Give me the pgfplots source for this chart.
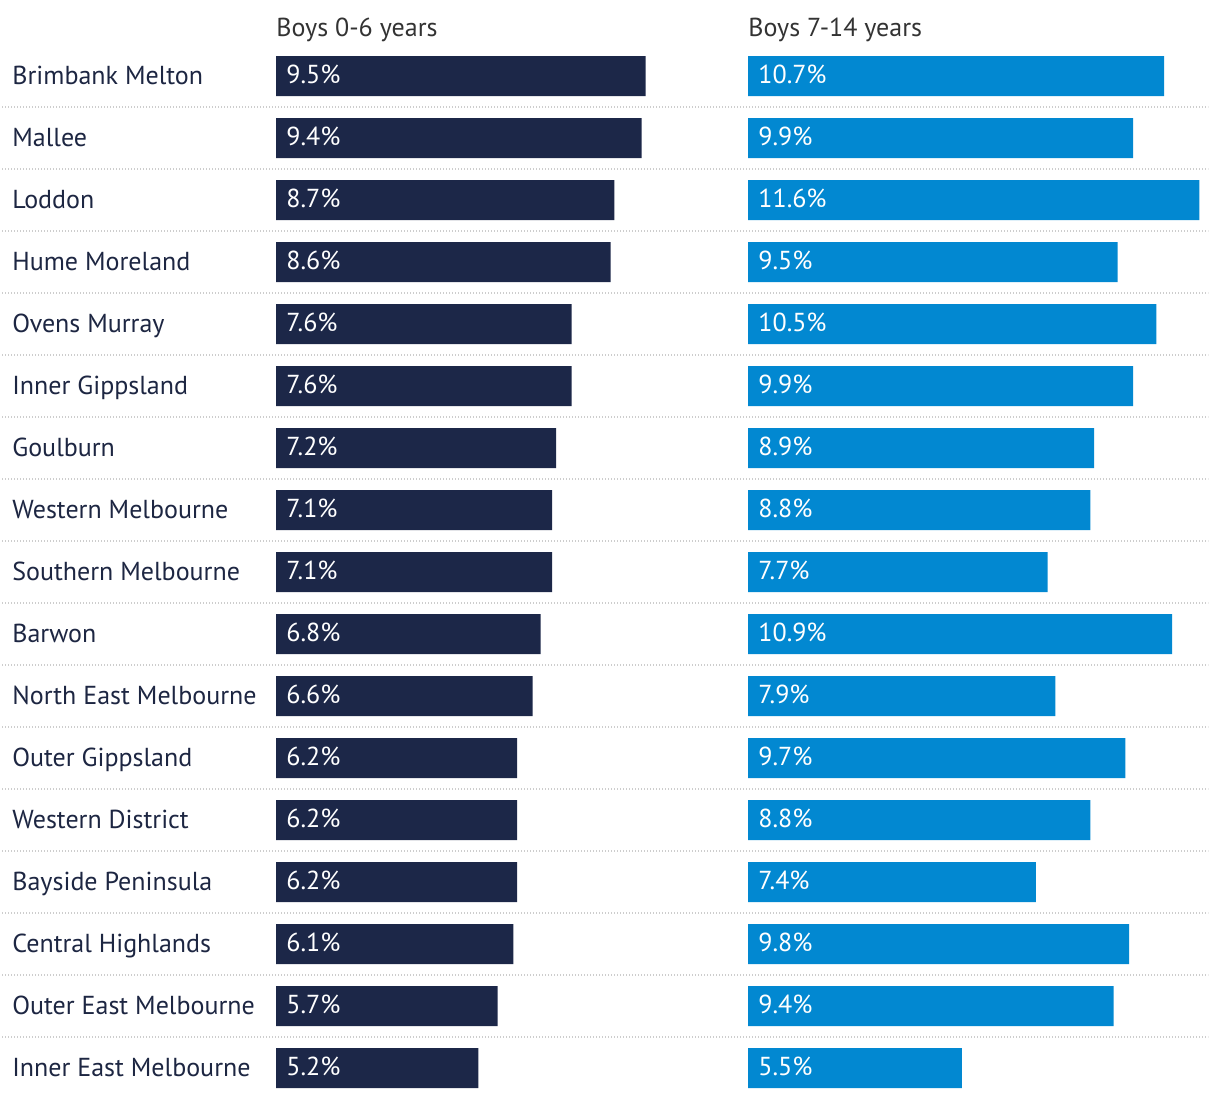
\documentclass[border=0pt]{standalone}
\usepackage{pgfplots}
\usepackage{pgfplotstable}
\pgfplotsset{compat=1.18}
\usepackage{fontspec}
\setmainfont{PT Sans}
\definecolor{navy}{RGB}{28,39,72}
\definecolor{sky}{RGB}{2,136,209}
\definecolor{labtext}{RGB}{29,38,66}
\definecolor{headtext}{RGB}{51,51,51}
\definecolor{sep}{RGB}{205,205,205}

\pgfplotstableread[col sep=comma]{
name,a,b
Brimbank Melton,9.5,10.7
Mallee,9.4,9.9
Loddon,8.7,11.6
Hume Moreland,8.6,9.5
Ovens Murray,7.6,10.5
Inner Gippsland,7.6,9.9
Goulburn,7.2,8.9
Western Melbourne,7.1,8.8
Southern Melbourne,7.1,7.7
Barwon,6.8,10.9
North East Melbourne,6.6,7.9
Outer Gippsland,6.2,9.7
Western District,6.2,8.8
Bayside Peninsula,6.2,7.4
Central Highlands,6.1,9.8
Outer East Melbourne,5.7,9.4
Inner East Melbourne,5.2,5.5
}\data

\pgfplotsset{
  myax/.style={
    scale only axis, width=233.4pt, height=549pt,
    xmin=0, xmax=12, ymin=-1.225806, ymax=16.483871,
    y dir=reverse, axis line style={draw=none},
    xtick=\empty, major tick length=0pt,
    clip=false, anchor=north west,
  },
  vallab/.style={
    only marks, mark=none, point meta=explicit symbolic,
    nodes near coords={\pgfplotspointmeta\%},
    nodes near coords style={anchor=base west, inner sep=0pt, xshift=5pt, yshift=-3.8pt, text=white, font=\fontsize{13pt}{15pt}\selectfont},
  },
}

\begin{document}
\begin{tikzpicture}[x=0.5pt,y=0.5pt]
\path[use as bounding box] (0,0) rectangle (1220,-1098);
% separators
\foreach \i in {0,...,15}{
  \draw[sep, line width=0.6pt, dash pattern=on 0.7pt off 0.8pt] (2,{-107-62*\i}) -- (1208,{-107-62*\i});
}
\node[anchor=base west, inner sep=0pt, text=headtext, font=\fontsize{13pt}{15pt}\selectfont] at (276,-36) {Boys 0-6 years};
\node[anchor=base west, inner sep=0pt, text=headtext, font=\fontsize{13pt}{15pt}\selectfont] at (748,-36) {Boys 7-14 years};

\begin{axis}[myax, at={(138pt,0pt)},
  ytick={0,...,16}, yticklabels from table={\data}{name},
  yticklabel style={anchor=base west, inner sep=0pt, xshift=-132pt, yshift=-4pt, text=labtext, font=\fontsize{13pt}{15pt}\selectfont},
]
\addplot[xbar, bar width=20pt, bar shift=0pt, fill=navy, draw=none] table[x=a, y expr=\coordindex] {\data};
\addplot[vallab] table[x expr=0, y expr=\coordindex, meta=a] {\data};
\end{axis}

\begin{axis}[myax, at={(374pt,0pt)}, ytick=\empty]
\addplot[xbar, bar width=20pt, bar shift=0pt, fill=sky, draw=none] table[x=b, y expr=\coordindex] {\data};
\addplot[vallab] table[x expr=0, y expr=\coordindex, meta=b] {\data};
\end{axis}
\end{tikzpicture}
\end{document}
